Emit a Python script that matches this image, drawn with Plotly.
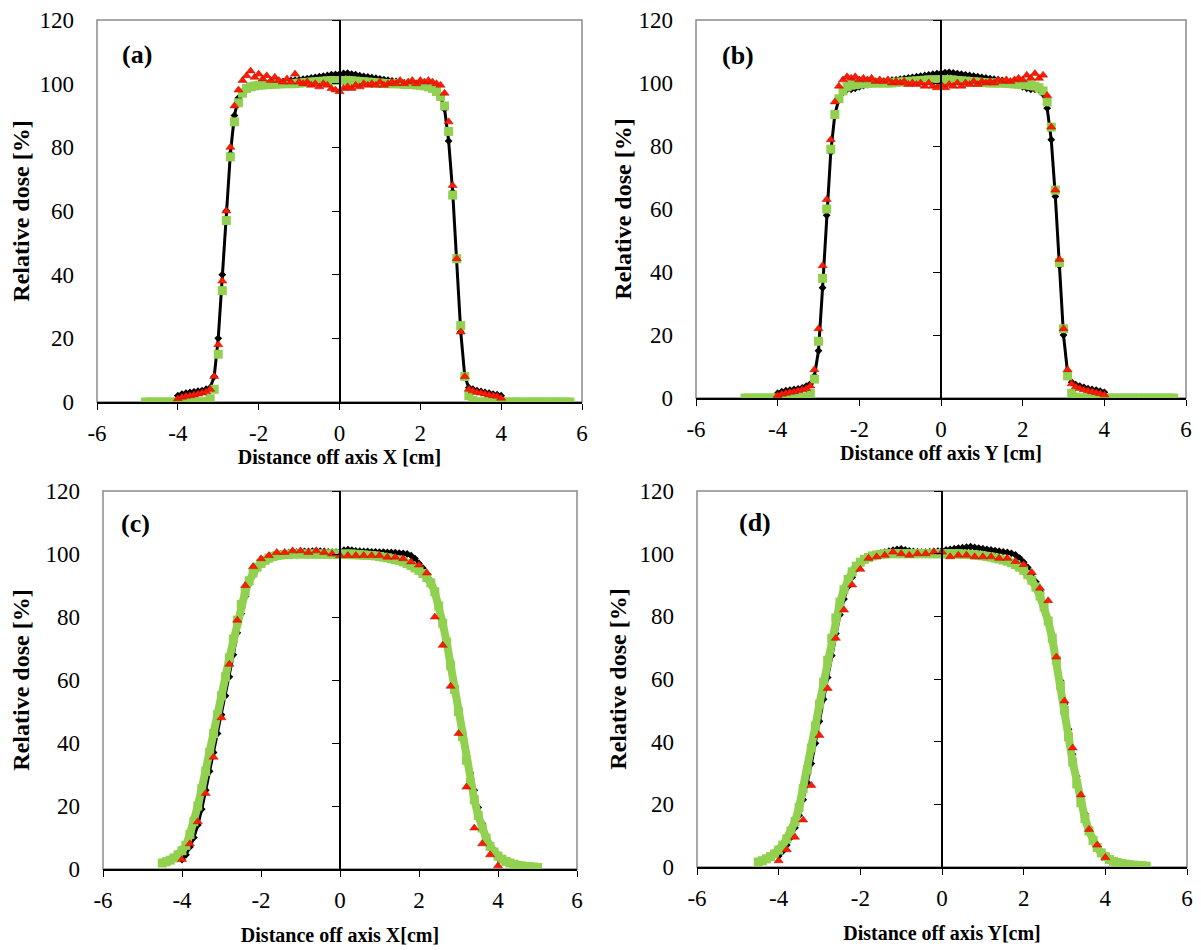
import plotly.graph_objects as go

W, H = 1201, 950
OFF = 8  # the page body margin shifts the figure by 8 px
SERIF = "Liberation Serif"

# ---- data ----
# position grids [cm]
x_meas = [-4.0, -3.9, -3.8, -3.7, -3.6, -3.5, -3.4, -3.3, -3.2, -3.1,
          -3.0, -2.9, -2.8, -2.7, -2.6, -2.5, -2.4, -2.3, -2.2, -2.1,
          -2.0, -1.9, -1.8, -1.7, -1.6, -1.5, -1.4, -1.3, -1.2, -1.1,
          -1.0, -0.9, -0.8, -0.7, -0.6, -0.5, -0.4, -0.3, -0.2, -0.1,
          0.0, 0.1, 0.2, 0.3, 0.4, 0.5, 0.6, 0.7, 0.8, 0.9,
          1.0, 1.1, 1.2, 1.3, 1.4, 1.5, 1.6, 1.7, 1.8, 1.9,
          2.0, 2.1, 2.2, 2.3, 2.4, 2.5, 2.6, 2.7, 2.8, 2.9,
          3.0, 3.1, 3.2, 3.3, 3.4, 3.5, 3.6, 3.7, 3.8, 3.9,
          4.0]

x_green_ab = [-4.8, -4.7, -4.6, -4.5, -4.4, -4.3, -4.2, -4.1, -4.0, -3.9,
              -3.8, -3.7, -3.6, -3.5, -3.4, -3.3, -3.2, -3.1, -3.0, -2.9,
              -2.8, -2.7, -2.6, -2.5, -2.4, -2.3, -2.2, -2.1, -2.0, -1.9,
              -1.8, -1.7, -1.6, -1.5, -1.4, -1.3, -1.2, -1.1, -1.0, -0.9,
              -0.8, -0.7, -0.6, -0.5, -0.4, -0.3, -0.2, -0.1, 0.0, 0.1,
              0.2, 0.3, 0.4, 0.5, 0.6, 0.7, 0.8, 0.9, 1.0, 1.1,
              1.2, 1.3, 1.4, 1.5, 1.6, 1.7, 1.8, 1.9, 2.0, 2.1,
              2.2, 2.3, 2.4, 2.5, 2.6, 2.7, 2.8, 2.9, 3.0, 3.1,
              3.2, 3.3, 3.4, 3.5, 3.6, 3.7, 3.8, 3.9, 4.0, 4.1,
              4.2, 4.3, 4.4, 4.5, 4.6, 4.7, 4.8, 4.9, 5.0, 5.1,
              5.2, 5.3, 5.4, 5.5, 5.6, 5.7]

x_green_cd = [-4.5, -4.4, -4.3, -4.2, -4.1, -4.0, -3.9, -3.8, -3.7, -3.6,
              -3.5, -3.4, -3.3, -3.2, -3.1, -3.0, -2.9, -2.8, -2.7, -2.6,
              -2.5, -2.4, -2.3, -2.2, -2.1, -2.0, -1.9, -1.8, -1.7, -1.6,
              -1.5, -1.4, -1.3, -1.2, -1.1, -1.0, -0.9, -0.8, -0.7, -0.6,
              -0.5, -0.4, -0.3, -0.2, -0.1, 0.0, 0.1, 0.2, 0.3, 0.4,
              0.5, 0.6, 0.7, 0.8, 0.9, 1.0, 1.1, 1.2, 1.3, 1.4,
              1.5, 1.6, 1.7, 1.8, 1.9, 2.0, 2.1, 2.2, 2.3, 2.4,
              2.5, 2.6, 2.7, 2.8, 2.9, 3.0, 3.1, 3.2, 3.3, 3.4,
              3.5, 3.6, 3.7, 3.8, 3.9, 4.0, 4.1, 4.2, 4.3, 4.4,
              4.5, 4.6, 4.7, 4.8, 4.9, 5.0]

x_red_cd = [-4.0, -3.8, -3.6, -3.4, -3.2, -3.0, -2.8, -2.6, -2.4, -2.2,
            -2.0, -1.8, -1.6, -1.4, -1.2, -1.0, -0.8, -0.6, -0.4, -0.2,
            0.0, 0.2, 0.4, 0.6, 0.8, 1.0, 1.2, 1.4, 1.6, 1.8,
            2.0, 2.2, 2.4, 2.6, 2.8, 3.0, 3.2, 3.4, 3.6, 3.8,
            4.0]

# (a) profile along X
a_black = [2.0, 2.5, 2.8, 3.0, 3.2, 3.4, 3.6, 4.0, 4.5, 8.0,
           20, 40, 60, 78, 90, 95.5, 97.5, 98.3, 98.6, 98.9,
           99.2, 99.5, 99.8, 100.0, 100.2, 100.4, 100.6, 100.8, 101.0, 101.1,
           101.2, 101.4, 101.6, 101.8, 102.0, 102.2, 102.4, 102.6, 102.8, 102.9,
           103.0, 103.2, 103.3, 103.0, 102.8, 102.5, 102.3, 102.1, 101.9, 101.7,
           101.5, 101.3, 101.1, 100.9, 100.7, 100.5, 100.3, 100.1, 99.9, 99.7,
           99.5, 99.2, 98.8, 98.3, 97.5, 96.0, 92.0, 82.0, 66.0, 45.0,
           22.0, 8.0, 4.5, 4.0, 3.6, 3.3, 3.0, 2.8, 2.5, 2.3,
           2.0]
a_red = [1.0, 1.5, 1.8, 2.0, 2.2, 2.5, 2.8, 3.2, 4.0, 8.0,
         18, 38, 60, 80, 93, 98, 101, 102.5, 104, 102,
         103, 101.5, 102.5, 101, 102, 101, 100.5, 101.5, 100.5, 103,
         100.5, 100, 100.5, 99.5, 100, 99, 100, 99.5, 98.5, 98,
         97.5, 98.5, 99, 98.5, 99.5, 99, 100, 99.5, 100, 99.5,
         100.5, 99.5, 100, 100.5, 100, 101, 100, 100.5, 101, 100,
         101, 100.5, 101, 100.5, 100, 99.5, 97, 88, 68, 45,
         22, 8, 4.0, 3.5, 3.0, 2.8, 2.5, 2.2, 2.0, 1.8,
         1.2]
a_green = [0, 0, 0, 0, 0, 0, 0, 0, 0, 0,
           0, 0, 0, 0, 0, 0.2, 1.0, 4, 15, 35,
           57, 77, 88, 94, 97, 98.5, 99, 99.3, 99.5, 99.6,
           99.7, 99.8, 99.8, 99.9, 100, 100, 100, 100, 100.2, 100.3,
           100.4, 100.5, 100.6, 100.7, 100.8, 100.9, 101, 101, 101, 101,
           101, 100.9, 100.8, 100.7, 100.6, 100.5, 100.4, 100.3, 100.2, 100.1,
           100, 100, 100, 99.9, 99.8, 99.8, 99.7, 99.6, 99.5, 99.3,
           99, 98.5, 97.5, 96, 93, 85, 65, 45, 24, 8,
           2, 0.5, 0, 0, 0, 0, 0, 0, 0, 0,
           0, 0, 0, 0, 0, 0, 0, 0, 0, 0,
           0, 0, 0, 0, 0, 0]

# (b) profile along Y
b_black = [1.5, 2.0, 2.3, 2.5, 2.7, 2.9, 3.2, 3.8, 4.5, 7.0,
           15, 35, 58, 78, 90, 95, 97, 98, 98, 98.3,
           98.8, 99.2, 99.5, 99.8, 100, 100.3, 100.5, 100.7, 100.9, 101.0,
           101.2, 101.4, 101.6, 101.8, 102.0, 102.2, 102.4, 102.6, 102.8, 103.0,
           103.1, 103.3, 103.4, 103.2, 103.0, 102.8, 102.6, 102.4, 102.2, 102.0,
           101.8, 101.6, 101.4, 101.2, 101.0, 100.8, 100.5, 100.2, 99.8, 99.3,
           98.8, 98.3, 98.0, 98.0, 97.8, 96.5, 92, 82, 64, 42,
           20, 8, 5, 4.2, 3.8, 3.4, 3.0, 2.7, 2.5, 2.2,
           1.8]
b_red = [0.8, 1.2, 1.5, 1.8, 2.0, 2.3, 2.6, 3.0, 3.8, 9,
         22, 42, 63, 82, 94, 99, 101, 102, 101.5, 102,
         101, 101.5, 101, 101.5, 100.5, 101, 100.5, 101, 100, 100.5,
         100, 100.5, 99.5, 100, 99.5, 100, 99, 100, 99, 98.5,
         99.5, 98.5, 99.5, 99, 100, 99, 100, 99.5, 100.5, 99.5,
         100.5, 100, 100.5, 100, 101, 100.5, 101, 100.5, 101, 101.5,
         101, 102.5, 101.5, 103, 101.5, 102.5, 96, 86, 66, 44,
         22, 9, 4.5, 3.6, 3.0, 2.6, 2.3, 2.0, 1.7, 1.4,
         1.0]
b_green = [0, 0, 0, 0, 0, 0, 0, 0, 0, 0,
           0, 0, 0, 0, 0, 0.3, 1.5, 6, 18, 38,
           60, 79, 90, 95, 97.5, 98.8, 99.3, 99.5, 99.7, 99.8,
           99.9, 100, 100, 100, 100, 100, 100, 100.2, 100.3, 100.4,
           100.5, 100.6, 100.7, 100.8, 100.9, 101, 101, 101, 101, 101,
           101, 100.9, 100.8, 100.7, 100.6, 100.5, 100.4, 100.3, 100.2, 100.1,
           100, 100, 100, 100, 99.9, 99.8, 99.7, 99.6, 99.5, 99.4,
           99.2, 99, 98.5, 97.5, 94, 86, 66, 43, 22, 7,
           1.5, 0.3, 0, 0, 0, 0, 0, 0, 0, 0,
           0, 0, 0, 0, 0, 0, 0, 0, 0, 0,
           0, 0, 0, 0, 0, 0]

# (c) profile along X
c_black = [3, 4.5, 7, 10, 14, 19, 25, 31, 37, 43,
           49, 55, 61, 68, 75, 81, 86.5, 90.5, 93.5, 95.5,
           97, 98, 98.8, 99.3, 99.7, 100, 100.2, 100.4, 100.5, 100.6,
           100.7, 100.8, 100.8, 100.9, 101, 100.9, 100.8, 100.7, 100.6, 100.6,
           100.8, 101.2, 101.4, 101.2, 101, 100.9, 100.8, 100.8, 100.7, 100.7,
           100.6, 100.6, 100.5, 100.5, 100.4, 100.3, 100.2, 100.0, 99.5, 98.5,
           97, 95.5, 93.5, 91.5, 88, 84, 79, 73, 66, 58,
           51, 44, 37, 30.5, 25, 19.5, 14.5, 10.5, 7.5, 5.0,
           3.5]
c_red = [3, 8, 15, 24, 35.5, 48, 65, 79, 90, 96,
         98.5, 99.5, 100.5, 100.5, 101, 101, 100.5, 101, 100.5, 100,
         99.5, 99.5, 99.5, 99.5, 99.5, 99.5, 99, 99, 98.5, 97.5,
         96.5, 94, 80, 71, 58, 43, 26, 13, 8, 4.5,
         1]
c_green = [1.9, 2.3, 2.8, 3.5, 4.5, 5.8, 7.5, 11, 15, 20,
           25.5, 31, 37, 43, 49, 55, 61, 67, 73, 79,
           84, 88, 91.5, 94, 95.8, 97, 98, 98.7, 99.2, 99.5,
           99.7, 99.8, 99.9, 100, 100, 100, 100, 100, 100, 100,
           100, 100, 100, 100, 100, 100, 100, 100, 100, 99.9,
           99.8, 99.7, 99.6, 99.5, 99.4, 99.2, 99.0, 98.8, 98.5, 98.2,
           98.0, 97.5, 97.0, 96.3, 95.6, 94.8, 93.8, 92.5, 90.8, 88,
           83.5, 78, 72, 64.5, 57, 50, 42, 34.5, 27.5, 22,
           17, 13, 9.8, 7.2, 5.4, 4.1, 3.1, 2.4, 1.9, 1.5,
           1.2, 1.0, 0.8, 0.7, 0.6, 0.5]

# (d) profile along Y
d_black = [3.5, 5, 7, 9.5, 12.5, 16.5, 21.5, 27, 33, 39.5,
           46.5, 53.5, 60.5, 67.5, 74.5, 80.5, 85.5, 89.5, 92.5, 95,
           96.8, 98, 98.8, 99.4, 99.8, 100.2, 100.5, 100.8, 101.1, 101.4,
           101.5, 101.2, 100.9, 100.7, 100.6, 100.5, 100.5, 100.6, 100.7, 100.8,
           101, 101.2, 101.4, 101.6, 101.8, 101.9, 102.1, 102.2, 102, 101.8,
           101.6, 101.4, 101.2, 101, 100.8, 100.6, 100.4, 100.1, 99.6, 98.6,
           97.3, 95.6, 93.5, 91, 88, 84, 79, 73.5, 67, 59.5,
           52, 44, 36, 29, 22.5, 17, 12.5, 9, 6.5, 4.5,
           3]
d_red = [2, 5.5, 9.5, 15, 26, 42, 57, 73, 82, 90,
         95, 98.5, 99, 99.5, 100.5, 100, 99.5, 100, 100, 100.5,
         100.5, 99, 99.5, 99.5, 99, 99, 99, 98.5, 98.5, 97.5,
         96.5, 94, 89, 85, 67, 53, 38, 23, 12, 7,
         3]
d_green = [1.6, 2.0, 2.6, 3.3, 4.2, 5.4, 7.0, 9.0, 11.5, 14.5,
           19, 25, 31, 38, 45, 52, 59, 66, 73, 79.5,
           84.5, 88.5, 91.8, 94.2, 96, 97.3, 98.2, 98.8, 99.3, 99.6,
           99.8, 99.9, 100, 100, 100, 100, 100, 100, 100, 100,
           100, 100, 100, 100, 100, 100, 100, 100, 100, 100,
           99.9, 99.8, 99.7, 99.6, 99.5, 99.3, 99.1, 98.9, 98.6, 98.3,
           98.0, 97.6, 97.1, 96.5, 95.7, 94.7, 93.3, 91.5, 89.3, 86.5,
           83, 78.5, 73, 66, 58, 50, 41.5, 33.5, 26.5, 20.5,
           15.5, 11.5, 8.5, 6.2, 4.5, 3.3, 2.4, 1.8, 1.4, 1.1,
           0.9, 0.7, 0.6, 0.5, 0.4, 0.3]

x_ticks = [-6, -4, -2, 0, 2, 4, 6]
x_tick_text = ["-6", "-4", "-2", "0", "2", "4", "6"]
y_ticks = [0, 20, 40, 60, 80, 100, 120]
y_title = "Relative dose [%]"

# box = (left, right, top, bottom) of each plot area in screen pixels
panels = [
    dict(label="(a)", xtitle="Distance off axis X [cm]",
         black=(x_meas, a_black), red=(x_meas, a_red), green=(x_green_ab, a_green),
         box=(97, 582, 20, 402), lab=(0.082, 0.91), xstand=0, ystand=9, band=False),
    dict(label="(b)", xtitle="Distance off axis Y [cm]",
         black=(x_meas, b_black), red=(x_meas, b_red), green=(x_green_ab, b_green),
         box=(696, 1186, 20, 398), lab=(0.085, 0.905), xstand=0, ystand=0, band=False),
    dict(label="(c)", xtitle="Distance off axis X[cm]",
         black=(x_meas, c_black), red=(x_red_cd, c_red), green=(x_green_cd, c_green),
         box=(103, 577, 491, 869), lab=(0.068, 0.915), xstand=16, ystand=15, band=True),
    dict(label="(d)", xtitle="Distance off axis Y[cm]",
         black=(x_meas, d_black), red=(x_red_cd, d_red), green=(x_green_cd, d_green),
         box=(697, 1187, 491, 867), lab=(0.119, 0.915), xstand=16, ystand=6, band=True),
]

fig = go.Figure()
layout = {}
shapes = []
annotations = []
tick_font = dict(family=SERIF, size=23, color="black")

for i, p in enumerate(panels, start=1):
    xa = "x" if i == 1 else f"x{i}"
    ya = "y" if i == 1 else f"y{i}"
    yz = f"y{i + 4}"
    l, r, t, b = [v - OFF for v in p["box"]]

    fig.add_trace(go.Scatter(x=p["black"][0], y=p["black"][1], xaxis=xa, yaxis=ya,
                             mode="lines+markers", line=dict(color="black", width=3),
                             marker=dict(symbol="diamond", size=6, color="black")))
    fig.add_trace(go.Scatter(x=p["green"][0], y=p["green"][1], xaxis=xa, yaxis=ya,
                             mode="lines+markers" if p["band"] else "markers",
                             line=dict(color="#92D050", width=8),
                             marker=dict(symbol="square", size=9, color="#92D050")))
    fig.add_trace(go.Scatter(x=p["red"][0], y=p["red"][1], xaxis=xa, yaxis=ya,
                             mode="markers",
                             marker=dict(symbol="triangle-up", size=8, color="#FF1A00",
                                         line=dict(color="#B01000", width=0.5))))
    # empty trace so the axis through x = 0 gets drawn
    fig.add_trace(go.Scatter(x=[], y=[], xaxis=xa, yaxis=yz, mode="markers"))

    layout["xaxis" if i == 1 else f"xaxis{i}"] = dict(
        domain=[l / W, r / W], anchor=ya, range=[-6, 6], automargin=False,
        tickvals=x_ticks, ticktext=x_tick_text, ticklabeloverflow="allow",
        ticks="outside", ticklen=6, tickwidth=1, tickcolor="black",
        showline=True, linecolor="black", linewidth=2,
        showgrid=False, zeroline=False, ticklabelstandoff=3, tickfont=tick_font,
        title=dict(text=p["xtitle"], standoff=p["xstand"],
                   font=dict(family=SERIF, size=20, color="black", weight="bold")))
    layout["yaxis" if i == 1 else f"yaxis{i}"] = dict(
        domain=[1 - b / H, 1 - t / H], anchor=xa, range=[0, 120], automargin=False,
        tickvals=y_ticks, ticks="", showline=False, showgrid=False, zeroline=False,
        ticklabelstandoff=22, tickfont=tick_font, ticklabeloverflow="allow",
        title=dict(text=y_title, standoff=p["ystand"],
                   font=dict(family=SERIF, size=24, color="black", weight="bold")))
    layout[f"yaxis{i + 4}"] = dict(
        overlaying=ya, anchor="free", position=(l + r) / 2 / W, range=[0, 120],
        automargin=False, tickvals=y_ticks, ticks="outside", ticklen=7, tickwidth=1,
        tickcolor="black", showticklabels=False, showline=True, linecolor="black",
        linewidth=1.5, showgrid=False, zeroline=False)

    shapes.append(dict(type="rect", xref=f"{xa} domain", yref=f"{ya} domain",
                       x0=0, x1=1, y0=0, y1=1, line=dict(color="#8a8a8a", width=1.5),
                       layer="below"))
    annotations.append(dict(text=p["label"], xref=f"{xa} domain", yref=f"{ya} domain",
                            x=p["lab"][0], y=p["lab"][1], xanchor="center",
                            yanchor="middle", showarrow=False,
                            font=dict(family=SERIF, size=26, color="black", weight="bold")))

fig.update_layout(
    width=W, height=H,
    margin=dict(l=0, r=0, t=0, b=0, autoexpand=False),
    font=dict(family=SERIF, color="black"),
    paper_bgcolor="white", plot_bgcolor="white",
    showlegend=False,
    shapes=shapes, annotations=annotations,
    **layout,
)

fig.write_html("out.html")
